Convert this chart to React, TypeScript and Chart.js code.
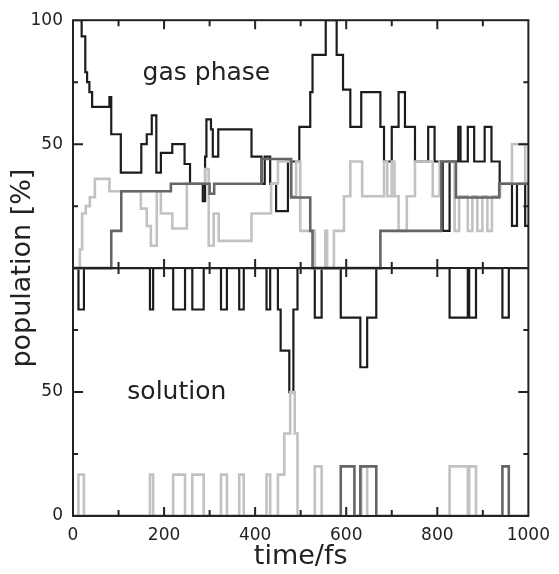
import React, { useEffect, useRef } from 'react';
import { Chart, registerables } from 'chart.js';

Chart.register(...registerables);

// ---- data: time (fs) where each step starts, and the population (%) it holds ----
// gas phase panel
const gasBlackT = [0, 19, 27, 31, 36, 42, 80, 84, 105, 150, 162, 173, 183, 193, 218, 245, 257, 285, 290, 293, 303, 307, 319, 392, 414, 421, 433, 446, 472, 497, 521, 526, 555, 579, 593, 609, 633, 675, 683, 700, 715, 729, 751, 780, 794, 812, 827, 846, 851, 867, 881, 904, 919, 937, 964, 975, 993];
const gasBlackV = [100, 93.5, 79, 75, 71, 65, 69, 54, 38.5, 50, 54, 61.6, 38.5, 46.5, 50, 42, 34, 27, 45, 60, 56, 45, 56, 45, 34, 45, 34, 23, 43, 57, 71, 86, 100, 86, 72, 57, 71, 57, 43, 57, 71, 57, 43, 57, 43, 15, 43, 57, 43, 57, 43, 57, 43, 34, 17, 34, 17];

const gasDarkT = [0, 84, 106, 215, 300, 310, 414, 479, 521, 526, 675, 809, 841, 936];
const gasDarkV = [0, 15, 31, 34, 30, 34, 44, 28.5, 15, 0, 15, 43, 28.5, 34];

const gasLightT = [0, 15, 20, 28, 37, 48, 80, 149, 162, 171, 184, 193, 218, 250, 290, 298, 309, 320, 392, 435, 450, 479, 490, 499, 531, 554, 558, 573, 595, 609, 635, 683, 690, 700, 706, 715, 733, 751, 790, 805, 838, 848, 867, 877, 888, 899, 910, 920, 938, 964, 993];
const gasLightV = [0, 7.5, 22, 25, 28.6, 36, 31, 24, 17, 9, 31, 22, 16, 34, 40, 9, 22, 11, 22, 34, 43, 29, 43, 15, 0, 15, 0, 15, 29, 43, 29, 43, 29, 43, 29, 15, 29, 43, 29, 43, 15, 29, 15, 29, 15, 29, 15, 29, 34, 50, 34];

// solution panel
const solBlackT = [0, 12, 24, 169, 176, 220, 246, 262, 287, 325, 338, 365, 375, 425, 433, 450, 456, 475, 484, 493, 531, 546, 588, 631, 646, 666, 827, 867, 870, 885, 943, 957];
const solBlackV = [100, 83.3, 100, 83.3, 100, 83.3, 100, 83.3, 100, 83.3, 100, 83.3, 100, 83.3, 100, 83.3, 66.7, 50, 83.3, 100, 80, 100, 80, 60, 80, 100, 80, 100, 80, 100, 80, 100];

const solDarkT = [0, 588, 618, 631, 666, 943, 957];
const solDarkV = [0, 20, 0, 20, 0, 20, 0];

const solLightT = [0, 12, 24, 169, 176, 220, 246, 262, 287, 325, 338, 365, 375, 425, 433, 450, 464, 477, 487, 493, 531, 546, 633, 646, 827, 867, 870, 885];
const solLightV = [0, 16.7, 0, 16.7, 0, 16.7, 0, 16.7, 0, 16.7, 0, 16.7, 0, 16.7, 0, 16.7, 33.3, 50, 33.3, 0, 20, 0, 20, 0, 20, 0, 20, 0];

// axes
const xTickValues = [0, 200, 400, 600, 800, 1000];
const xTickMarks = [100, 200, 300, 400, 500, 600, 700, 800, 900];
const yTickValues = [0, 50, 150, 200];
const yTickLabels = ['0', '50', '50', '100'];
const yTickMarks = [25, 50, 75, 125, 150, 175];

const T_END = 1000;
const GAS_OFFSET = 100; // gas-phase panel sits on top of the solution panel
const FONT = "'DejaVu Sans', sans-serif";
const INK = '#222222';

const panelLabels = [
  { text: 'gas phase', t: 293, v: 178.5 },
  { text: 'solution', t: 228, v: 50 },
];

function steps(T: number[], V: number[], offset: number) {
  const pts = T.map((t, i) => ({ x: t, y: V[i] + offset }));
  pts.push({ x: T_END, y: V[V.length - 1] + offset });
  return pts;
}

const BLACK = '#1c1c1c';
const DARK = '#656565';
const LIGHT = '#c2c2c2';

function ds(data: { x: number; y: number }[], color: string, width: number, order: number) {
  return {
    data,
    borderColor: color,
    backgroundColor: color,
    borderWidth: width,
    stepped: 'before' as const,
    pointRadius: 0,
    fill: false,
    order,
  };
}

const framePlugin = {
  id: 'frame',
  afterDatasetsDraw(chart: any) {
    const { ctx, chartArea, scales } = chart;
    const { left, right, top, bottom } = chartArea;
    const x = scales.x;
    const y = scales.y;
    const mid = y.getPixelForValue(GAS_OFFSET);
    ctx.save();
    ctx.strokeStyle = INK;
    ctx.lineWidth = 2;
    ctx.strokeRect(left, top, right - left, bottom - top);
    ctx.beginPath();
    ctx.moveTo(left, mid);
    ctx.lineTo(right, mid);
    ctx.stroke();
    ctx.beginPath();
    for (const t of xTickMarks) {
      const px = x.getPixelForValue(t);
      const len = t % 200 === 0 ? 9 : 6;
      ctx.moveTo(px, top);
      ctx.lineTo(px, top + len);
      ctx.moveTo(px, bottom);
      ctx.lineTo(px, bottom - len);
      ctx.moveTo(px, mid - len);
      ctx.lineTo(px, mid + len);
    }
    for (const v of yTickMarks) {
      const py = y.getPixelForValue(v);
      const len = v % 50 === 0 ? 10 : 5;
      ctx.moveTo(left, py);
      ctx.lineTo(left + len, py);
      ctx.moveTo(right, py);
      ctx.lineTo(right - len, py);
    }
    ctx.stroke();

    ctx.fillStyle = INK;
    ctx.font = `25px ${FONT}`;
    ctx.textAlign = 'center';
    ctx.textBaseline = 'middle';
    for (const l of panelLabels) {
      ctx.fillText(l.text, x.getPixelForValue(l.t), y.getPixelForValue(l.v));
    }
    // y-axis title
    ctx.font = `27px ${FONT}`;
    ctx.translate(23, (top + bottom) / 2);
    ctx.rotate(-Math.PI / 2);
    ctx.fillText('population [%]', 0, 0);
    ctx.restore();
  },
};

export default function App() {
  const ref = useRef<HTMLCanvasElement>(null);
  useEffect(() => {
    const canvas = ref.current;
    if (!canvas) return;
    const chart = new Chart(canvas, {
      type: 'line',
      data: {
        datasets: [
          ds(steps(gasDarkT, gasDarkV, GAS_OFFSET), DARK, 2.6, 0),
          ds(steps(solDarkT, solDarkV, 0), DARK, 2.6, 0),
          ds(steps(gasLightT, gasLightV, GAS_OFFSET), LIGHT, 2.6, 1),
          ds(steps(solLightT, solLightV, 0), LIGHT, 2.6, 1),
          ds(steps(gasBlackT, gasBlackV, GAS_OFFSET), BLACK, 2.2, 2),
          ds(steps(solBlackT, solBlackV, 0), BLACK, 2.2, 2),
        ] as any,
      },
      options: {
        animation: false,
        responsive: false,
        devicePixelRatio: 1,
        layout: { padding: { top: 19, right: 26, left: 0, bottom: 0 } },
        plugins: { legend: { display: false }, tooltip: { enabled: false } },
        scales: {
          x: {
            type: 'linear',
            min: 0,
            max: T_END,
            grid: { display: false, drawTicks: false },
            border: { display: false },
            afterBuildTicks: (s: any) => {
              s.ticks = xTickValues.map((v) => ({ value: v }));
            },
            afterFit: (s: any) => {
              s.height = 58;
            },
            ticks: {
              autoSkip: false,
              maxRotation: 0,
              padding: 9,
              color: INK,
              font: { family: FONT, size: 17 },
              callback: (v: any) => String(v),
            },
            title: {
              display: true,
              text: 'time/fs',
              color: INK,
              font: { family: FONT, size: 27 },
              padding: { top: 0, bottom: 1 },
            },
          },
          y: {
            type: 'linear',
            min: 0,
            max: 200,
            grid: { display: false, drawTicks: false },
            border: { display: false },
            afterBuildTicks: (s: any) => {
              s.ticks = yTickValues.map((v) => ({ value: v }));
            },
            afterFit: (s: any) => {
              s.width = 73;
            },
            ticks: {
              autoSkip: false,
              padding: 10,
              color: INK,
              font: { family: FONT, size: 17 },
              callback: (v: any) => {
                const i = yTickValues.indexOf(Number(v));
                return i >= 0 ? yTickLabels[i] : '';
              },
            },
          },
        },
      },
      plugins: [framePlugin],
    });
    return () => chart.destroy();
  }, []);
  return (
    <div style={{ position: 'fixed', left: 0, top: 0, width: 559, height: 574, background: '#fff' }}>
      <canvas ref={ref} width={559} height={574} style={{ display: 'block', width: 559, height: 574 }} />
    </div>
  );
}
